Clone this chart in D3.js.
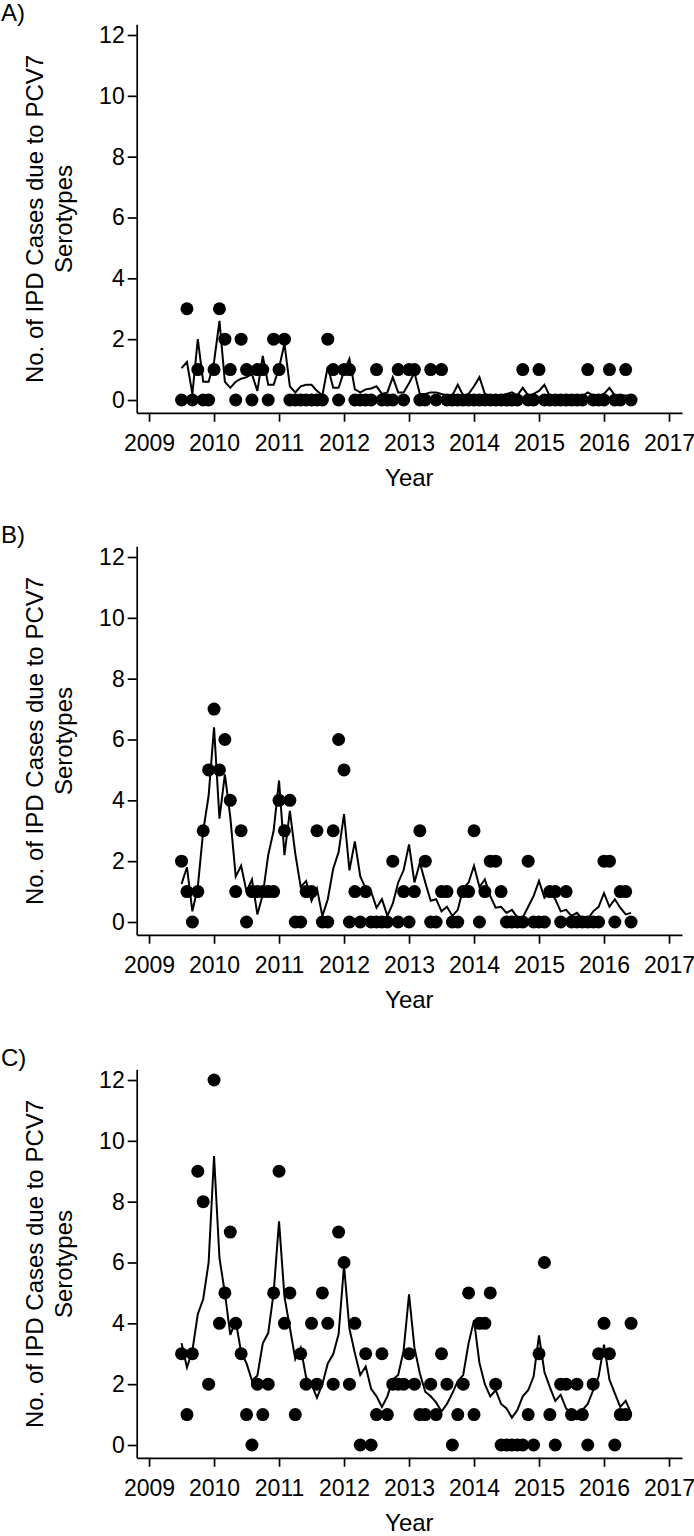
<!DOCTYPE html>
<html><head><meta charset="utf-8">
<script src="https://cdn.jsdelivr.net/npm/d3@7"></script>
<style>
html,body{margin:0;padding:0;background:#fff;}
svg{display:block;font-family:"Liberation Sans",Arial,Helvetica,sans-serif;}
</style></head>
<body>
<svg id="chart" width="694" height="1536"></svg>
<script>
// ---- data ----
const panelLabels = ["A)", "B)", "C)"];
const yTitle1 = "No. of IPD Cases due to PCV7";
const yTitle2 = "Serotypes";
const xTitle = "Year";
const yearTicks = [2009, 2010, 2011, 2012, 2013, 2014, 2015, 2016, 2017];
const yTicks = [0, 2, 4, 6, 8, 10, 12];
// monthly observations, July 2009 .. June 2016
const startYear = 2009, startMonth = 7, nMonths = 84;
const months = d3.range(nMonths).map(i => startYear + (startMonth - 1 + i) / 12);

const casesA = [0,3,0,1,0,0,1,3,2,1, 0,2,1,0,1,1,0,2,1,2, 0,0,0,0,0,0,0,2,1,0,
  1,1,0,0,0,0,1,0,0,0, 1,0,1,1,0,0,1,0,1,0, 0,0,0,0,0,0,0,0,0,0,
  0,0,0,1,0,0,1,0,0,0, 0,0,0,0,0,1,0,0,0,1, 0,0,1,0];
const fitA = [1.05,1.25,0.2,2.0,0.6,0.6,1.25,2.6,0.6,0.4, 0.6,0.7,0.75,0.85,0.3,1.45,0.5,0.5,1.05,1.85,
  0.45,0.25,0.45,0.5,0.5,0.3,0.15,1.1,0.4,0.4, 0.95,1.35,0.35,0.25,0.35,0.38,0.45,0.2,0.25,0.75,
  0.25,0.25,0.55,0.9,0.2,0.2,0.25,0.25,0.2,0.15, 0.15,0.5,0.15,0.2,0.45,0.75,0.2,0.15,0.15,0.15,
  0.2,0.25,0.15,0.4,0.15,0.2,0.3,0.5,0.12,0.12, 0.12,0.12,0.12,0.12,0.12,0.25,0.15,0.15,0.2,0.4,
  0.15,0.15,0.15,0.15];

const casesB = [2,1,0,1,3,5,7,5,6,4, 1,3,0,1,1,1,1,1,4,3, 4,0,0,1,1,3,0,0,3,6,
  5,0,1,0,1,0,0,0,0,2, 0,1,0,1,3,2,0,0,1,1, 0,0,1,1,3,0,1,2,2,1,
  0,0,0,0,2,0,0,0,1,1, 0,1,0,0,0,0,0,0,2,2, 0,1,1,0];
const fitB = [1.25,1.8,0.35,1.15,3.0,4.15,6.4,3.4,4.85,3.45, 1.5,1.85,1.0,1.4,0.25,0.9,2.2,3.0,4.65,2.2,
  3.65,2.25,1.15,1.35,0.7,1.1,0.2,0.75,1.75,2.3, 3.55,1.7,2.65,1.5,1.1,1.0,0.47,0.75,0.2,0.6,
  1.3,1.7,2.55,1.3,1.95,1.3,0.7,0.75,0.35,0.5, 0.2,0.4,1.1,1.3,1.85,1.15,1.4,0.85,0.47,0.5,
  0.3,0.4,0.15,0.15,0.5,0.85,1.35,0.8,1.0,0.75, 0.35,0.4,0.2,0.3,0.1,0.1,0.35,0.5,0.95,0.5,
  0.75,0.47,0.25,0.3];

const casesC = [3,1,3,9,8,2,12,4,5,7, 4,3,1,0,2,1,2,5,9,4, 5,1,3,2,4,2,5,4,2,7,
  6,2,4,0,3,0,1,3,1,2, 2,2,3,2,1,1,2,1,3,2, 0,1,2,5,1,4,4,5,2,0,
  0,0,0,0,1,0,3,6,1,0, 2,2,1,2,1,0,2,3,4,3, 0,1,1,4];
const fitC = [3.35,2.55,3.1,4.3,4.8,6.0,9.5,6.15,5.0,3.62, 4.08,3.05,2.68,2.12,2.28,3.34,3.68,5.0,7.35,4.88,
  3.86,2.82,3.2,2.22,2.0,1.55,2.0,2.68,2.98,3.65, 5.9,3.82,3.02,2.3,2.58,1.85,1.6,1.25,1.6,2.15,
  2.3,3.1,4.95,3.2,2.35,1.75,1.6,1.4,1.1,1.35, 1.7,2.1,2.3,3.35,4.1,2.7,2.0,1.6,1.8,1.35,
  1.2,0.9,1.15,1.6,1.8,2.25,3.6,2.4,1.9,1.45, 1.65,1.2,1.05,0.85,1.15,1.35,1.8,2.25,3.3,2.15,
  1.7,1.25,1.45,1.05];

const panels = [
  {label: panelLabels[0], cases: casesA, fit: fitA},
  {label: panelLabels[1], cases: casesB, fit: fitB},
  {label: panelLabels[2], cases: casesC, fit: fitC}
];
const offsets = [0, 522, 1045];

// ---- drawing ----
const svg = d3.select("#chart");
const FONT_TICK = 23, FONT_TITLE = 24;
const unit = 365 / 12;

const x = d3.scaleLinear().domain([2008.81, 2017.2]).range([136.7, 682]);

panels.forEach((p, k) => {
  const off = offsets[k];
  const y0 = 400 + off;
  const y = d3.scaleLinear().domain([-0.42, 12.35]).range([y0 + 0.42 * unit, y0 - 12.35 * unit]);
  const g = svg.append("g");

  // panel label
  g.append("text").attr("x", 1).attr("y", 21 + off)
    .attr("font-size", FONT_TITLE).text(p.label);

  // y axis
  const ya = g.append("g").attr("transform", `translate(${x.range()[0]},0)`)
    .call(d3.axisLeft(y).tickValues(yTicks).tickSize(9).tickPadding(3).tickSizeOuter(0));
  // x axis
  const xa = g.append("g").attr("transform", `translate(0,${y(-0.42)})`)
    .call(d3.axisBottom(x).tickValues(yearTicks).tickFormat(d3.format("d"))
      .tickSize(9).tickPadding(13).tickSizeOuter(0));
  [ya, xa].forEach(a => {
    a.attr("font-family", null).attr("font-size", FONT_TICK);
    a.selectAll("path,line").attr("stroke", "#000").attr("stroke-width", 1.7);
    a.selectAll("text").attr("fill", "#000");
  });

  // titles
  const cy = 219 + off;
  g.append("text").attr("transform", `translate(43,${cy}) rotate(-90)`)
    .attr("text-anchor", "middle").attr("font-size", FONT_TITLE).text(yTitle1);
  g.append("text").attr("transform", `translate(72,${cy}) rotate(-90)`)
    .attr("text-anchor", "middle").attr("font-size", FONT_TITLE).text(yTitle2);
  g.append("text").attr("x", (x.range()[0] + x.range()[1]) / 2).attr("y", y(-0.42) + 73)
    .attr("text-anchor", "middle").attr("font-size", FONT_TITLE).text(xTitle);

  // fitted line
  const line = d3.line().x((d, i) => x(months[i])).y(d => y(d));
  g.append("path").datum(p.fit).attr("d", line)
    .attr("fill", "none").attr("stroke", "#000").attr("stroke-width", 2)
    .attr("stroke-linejoin", "miter");

  // observed points
  g.append("g").selectAll("circle").data(p.cases).join("circle")
    .attr("cx", (d, i) => x(months[i])).attr("cy", d => y(d))
    .attr("r", 6.5).attr("fill", "#000");
});
</script>
</body></html>
